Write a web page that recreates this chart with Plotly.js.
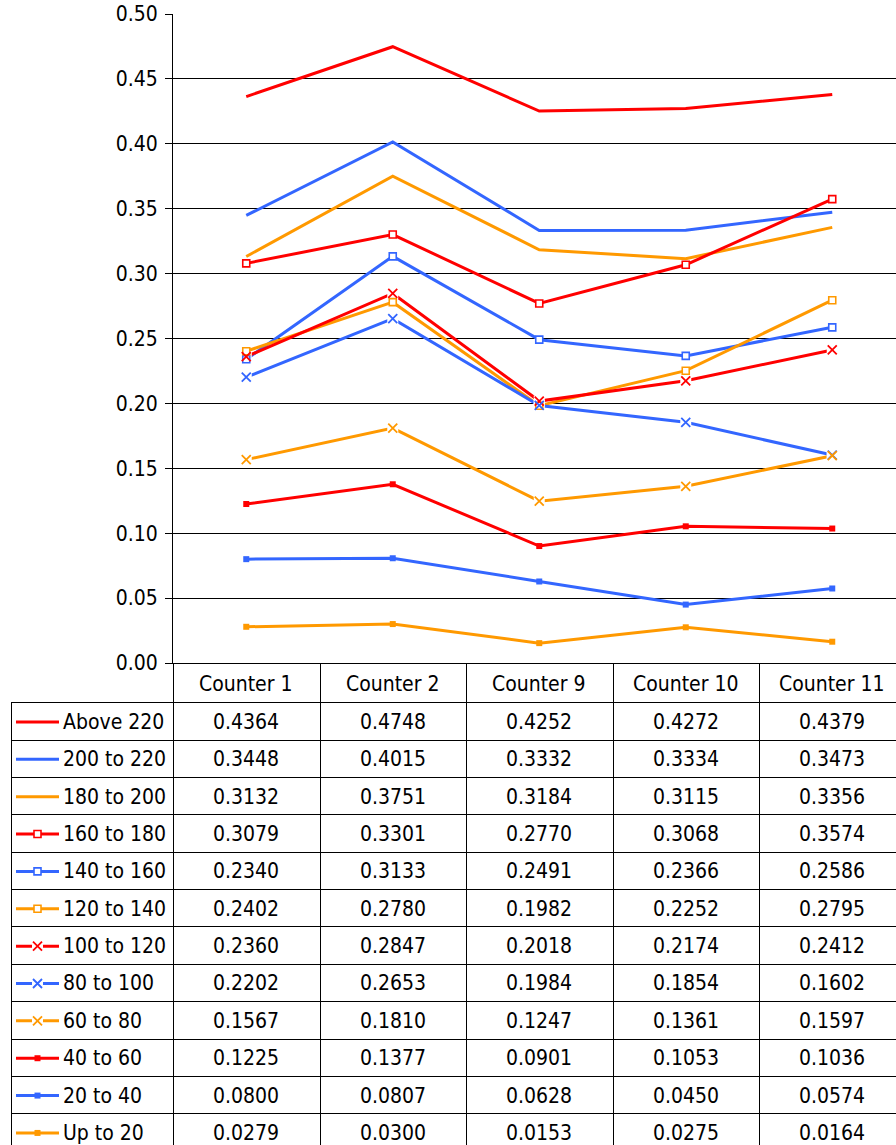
<!DOCTYPE html>
<html><head><meta charset="utf-8">
<script src="https://cdn.plot.ly/plotly-3.0.1.min.js"></script>
<style>html,body{margin:0;padding:0;background:#fff}#chart{width:896px;height:1145px}</style>
</head><body><div id="chart"></div>
<script>
// ---- data ----
const categories = ['Counter 1', 'Counter 2', 'Counter 9', 'Counter 10', 'Counter 11'];
const seriesNames = ['Above 220', '200 to 220', '180 to 200', '160 to 180', '140 to 160', '120 to 140',
                     '100 to 120', '80 to 100', '60 to 80', '40 to 60', '20 to 40', 'Up to 20'];
const above220   = [0.4364, 0.4748, 0.4252, 0.4272, 0.4379];
const r200to220  = [0.3448, 0.4015, 0.3332, 0.3334, 0.3473];
const r180to200  = [0.3132, 0.3751, 0.3184, 0.3115, 0.3356];
const r160to180  = [0.3079, 0.3301, 0.2770, 0.3068, 0.3574];
const r140to160  = [0.2340, 0.3133, 0.2491, 0.2366, 0.2586];
const r120to140  = [0.2402, 0.2780, 0.1982, 0.2252, 0.2795];
const r100to120  = [0.2360, 0.2847, 0.2018, 0.2174, 0.2412];
const r80to100   = [0.2202, 0.2653, 0.1984, 0.1854, 0.1602];
const r60to80    = [0.1567, 0.1810, 0.1247, 0.1361, 0.1597];
const r40to60    = [0.1225, 0.1377, 0.0901, 0.1053, 0.1036];
const r20to40    = [0.0800, 0.0807, 0.0628, 0.0450, 0.0574];
const upTo20     = [0.0279, 0.0300, 0.0153, 0.0275, 0.0164];
const seriesValues = [above220, r200to220, r180to200, r160to180, r140to160, r120to140,
                      r100to120, r80to100, r60to80, r40to60, r20to40, upTo20];

// ---- styles ----
const RED = '#FF0000', BLUE = '#3366FF', ORANGE = '#FF9900';
const colors = [RED, BLUE, ORANGE, RED, BLUE, ORANGE, RED, BLUE, ORANGE, RED, BLUE, ORANGE];
const markerKinds = ['none','none','none','open','open','open','x','x','x','fill','fill','fill'];

const W = 896, H = 1145;
const FONT = '"DejaVu Sans Condensed", "DejaVu Sans", sans-serif';
const FS = 21;
const px = x => x / W;
const py = y => 1 - y / H;

// plot area pixels
const plotL = 173, plotT = 14, plotB = 663;
const colW = 146.5;
const xMax = -0.5 + (W - plotL) / colW;

// table geometry
const headTop = 663, rowTop0 = 702.3, rowH = 37.36, tableLeft = 11, keyX0 = 16, keyX1 = 59, keyXM = 37.5, labelX = 61;
const colEdges = [173, 320, 466, 613, 759];

function markerSpec(kind, color) {
  if (kind === 'open') return {symbol: 'square', size: 7, color: '#fff', line: {color: color, width: 1.6}};
  if (kind === 'x') return {symbol: 'x-thin', size: 9, color: color, line: {color: color, width: 1.8}};
  if (kind === 'fill') return {symbol: 'square', size: 6, color: color, line: {width: 0}};
  return null;
}

const traces = [];
// lines
seriesValues.forEach((vals, i) => {
  traces.push({x: categories, y: vals, type: 'scatter', mode: 'lines', name: seriesNames[i],
    line: {color: colors[i], width: 3}, xaxis: 'x', yaxis: 'y', hoverinfo: 'name+y', showlegend: false});
});
// white underlay for x markers
seriesValues.forEach((vals, i) => {
  if (markerKinds[i] !== 'x') return;
  traces.push({x: categories, y: vals, type: 'scatter', mode: 'markers',
    marker: {symbol: 'square', size: 11, color: '#fff', line: {width: 0}}, xaxis: 'x', yaxis: 'y',
    hoverinfo: 'skip', showlegend: false});
});
// markers
seriesValues.forEach((vals, i) => {
  const m = markerSpec(markerKinds[i], colors[i]);
  if (!m) return;
  traces.push({x: categories, y: vals, type: 'scatter', mode: 'markers', name: seriesNames[i],
    marker: m, xaxis: 'x', yaxis: 'y', hoverinfo: 'skip', showlegend: false});
});

// legend keys in the data table (pixel-coordinate overlay axis)
seriesNames.forEach((nm, i) => {
  const yc = rowTop0 + rowH * i + rowH / 2 + 1;
  traces.push({x: [keyX0, keyX1], y: [yc, yc], type: 'scatter', mode: 'lines',
    line: {color: colors[i], width: 3}, xaxis: 'x2', yaxis: 'y2', hoverinfo: 'skip', showlegend: false});
  const m = markerSpec(markerKinds[i], colors[i]);
  if (m) {
    if (markerKinds[i] === 'x') {
      traces.push({x: [keyXM], y: [yc], type: 'scatter', mode: 'markers',
        marker: {symbol: 'square', size: 11, color: '#fff', line: {width: 0}},
        xaxis: 'x2', yaxis: 'y2', hoverinfo: 'skip', showlegend: false});
    }
    traces.push({x: [keyXM], y: [yc], type: 'scatter', mode: 'markers', marker: m,
      xaxis: 'x2', yaxis: 'y2', hoverinfo: 'skip', showlegend: false});
  }
});

// table lines
const shapes = [];
const L = (x0, y0, x1, y1) => shapes.push({type: 'line', xref: 'paper', yref: 'paper',
  x0: px(x0), y0: py(y0), x1: px(x1), y1: py(y1), line: {color: '#000', width: 1}});
for (let k = 0; k < seriesNames.length; k++) {
  const y = Math.round(rowTop0 + rowH * k) + 0.5;
  L(tableLeft, y, W, y);
}
L(tableLeft + 0.5, rowTop0, tableLeft + 0.5, H);
colEdges.forEach(x => L(x + 0.5, headTop, x + 0.5, H));

// table text
const annotations = [];
categories.forEach((c, j) => {
  annotations.push({xref: 'paper', yref: 'paper', x: px(plotL + colW * (j + 0.5)), y: py((headTop + rowTop0) / 2 + 1),
    text: c, showarrow: false, xanchor: 'center', yanchor: 'middle', font: {family: FONT, size: FS, color: '#000'}});
});
seriesNames.forEach((nm, i) => {
  const yc = rowTop0 + rowH * i + rowH / 2 + 1;
  annotations.push({xref: 'paper', yref: 'paper', x: px(labelX), y: py(yc), text: nm, showarrow: false,
    xanchor: 'left', yanchor: 'middle', font: {family: FONT, size: FS, color: '#000'}});
  seriesValues[i].forEach((v, j) => {
    annotations.push({xref: 'paper', yref: 'paper', x: px(plotL + colW * (j + 0.5)), y: py(yc),
      text: v.toFixed(4), showarrow: false, xanchor: 'center', yanchor: 'middle',
      font: {family: FONT, size: FS, color: '#000'}});
  });
});

const layout = {
  width: W, height: H,
  margin: {l: 0, r: 0, t: 0, b: 0, pad: 0},
  paper_bgcolor: '#fff', plot_bgcolor: 'rgba(0,0,0,0)',
  showlegend: false,
  font: {family: FONT, size: FS, color: '#000'},
  xaxis: {domain: [px(plotL), 1], range: [-0.5, xMax], type: 'category', showticklabels: false,
    showgrid: false, zeroline: false, showline: true, linecolor: '#000', linewidth: 1, ticks: '',
    anchor: 'y', fixedrange: true},
  yaxis: {domain: [py(plotB), py(plotT)], range: [0, 0.5], dtick: 0.05, tick0: 0, tickformat: '.2f',
    showgrid: true, gridcolor: '#000', gridwidth: 1, zeroline: false, showline: true, linecolor: '#000',
    linewidth: 1, ticks: 'outside', ticklen: 7, tickcolor: '#000', tickwidth: 1, ticklabelstandoff: 3,
    tickfont: {family: FONT, size: FS, color: '#000'}, anchor: 'x', fixedrange: true},
  xaxis2: {domain: [0, 1], range: [0, W], visible: false, anchor: 'y2', fixedrange: true},
  yaxis2: {domain: [0, 1], range: [H, 0], visible: false, anchor: 'x2', fixedrange: true},
  shapes: shapes,
  annotations: annotations
};

Plotly.newPlot('chart', traces, layout, {displayModeBar: false, staticPlot: true});
</script>
</body></html>
